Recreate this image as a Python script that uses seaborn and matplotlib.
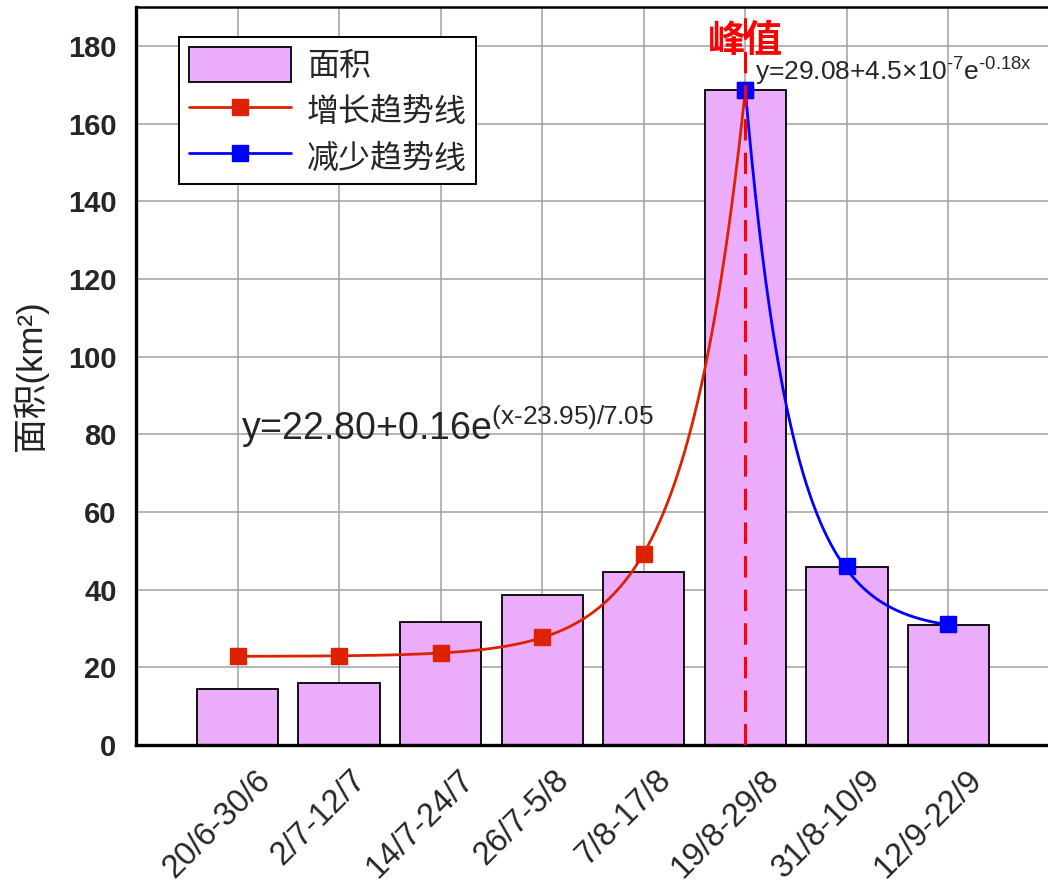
import numpy as np
import matplotlib
matplotlib.use("Agg")
import matplotlib.pyplot as plt
import matplotlib.transforms as mtransforms
from matplotlib.patches import Patch
from matplotlib.lines import Line2D
import seaborn as sns

# data
periods = ['20/6-30/6', '2/7-12/7', '14/7-24/7', '26/7-5/8',
           '7/8-17/8', '19/8-29/8', '31/8-10/9', '12/9-22/9']
area = [14.4, 16.0, 31.7, 38.7, 44.6, 168.6, 45.9, 30.9]

grow_idx = [0, 1, 2, 3, 4, 5]
grow_val = [22.8, 22.8, 23.7, 27.8, 49.3, 168.6]
fall_idx = [5, 6, 7]
fall_val = [168.6, 46.2, 31.2]
peak_idx = 5

# fitted curve constants printed on the chart (x in days, 12 days per period)
day_step = 12
grow_a, grow_b, grow_x0, grow_t = 22.80, 0.16, 23.95, 7.05
fall_a, fall_k = 29.08, 0.18

bar_color = '#ECACFC'
red = '#DD2200'
blue = '#0000FF'

sns.set_style('white')
plt.rcParams['font.family'] = ['Liberation Sans', 'Noto Sans CJK SC']
plt.rcParams['mathtext.fontset'] = 'custom'
plt.rcParams['mathtext.rm'] = 'Liberation Sans'
plt.rcParams['mathtext.it'] = 'Liberation Sans'
plt.rcParams['mathtext.default'] = 'regular'
cjk = ['Liberation Sans', 'Noto Sans CJK SC']

fig = plt.figure(figsize=(10.48, 8.84), dpi=100)
ax = fig.add_axes([136 / 1048, 139 / 884, 914 / 1048, 738 / 884])

sns.barplot(x=periods, y=area, color=bar_color, saturation=1, width=0.8,
            edgecolor='black', linewidth=1.3, ax=ax, zorder=2)

# trend curves from the printed fits
xg = np.linspace(grow_idx[0], grow_idx[-1], 300)
dg = day_step * (xg + 1)
yg = grow_a + grow_b * np.exp((dg - grow_x0) / grow_t)
ax.plot(xg, yg, color=red, lw=2, zorder=4)

xf = np.linspace(fall_idx[0], fall_idx[-1], 300)
df_ = day_step * (xf - fall_idx[0])
yf = fall_a + (fall_val[0] - fall_a) * np.exp(-fall_k * df_)
ax.plot(xf, yf, color=blue, lw=2, zorder=4)

ax.plot(grow_idx, grow_val, 's', color=red, ms=11, zorder=5)
ax.plot(fall_idx, fall_val, 's', color=blue, ms=11, zorder=5)

ax.axvline(peak_idx, color='#FF0000', lw=2.2, ls=(0, (7, 4)), zorder=6)

ax.text(peak_idx, 181, '峰值', color='#FF0000', fontsize=27, fontweight='bold',
        ha='center', va='center', family=cjk, zorder=7)
ax.text(0.03, 78.5, r'y=22.80+0.16e$^{\text{(x-23.95)/7.05}}$', fontsize=27,
        ha='left', va='baseline', zorder=7)
ax.text(5.1, 171, r'y=29.08+4.5×10$^{\text{-7}}$e$^{\text{-0.18x}}$', fontsize=19,
        ha='left', va='baseline', zorder=7)

# axes styling
ax.set_xlim(-1, 8)
ax.set_ylim(0, 190)
ax.set_xticks(range(-1, 9))
ax.set_xticklabels([''] + periods + [''], rotation=45, ha='center', fontsize=23.5)
ax.set_yticks(range(0, 181, 20))
ax.set_yticks(range(10, 191, 20), minor=True)
for lab in ax.get_yticklabels():
    lab.set_fontweight('bold')
    lab.set_fontsize(21)
ax.tick_params(axis='both', which='major', direction='out', length=10, width=2, pad=4)
ax.tick_params(axis='y', which='minor', direction='out', length=9, width=2)
ax.tick_params(axis='x', which='minor', bottom=False)
shift = mtransforms.ScaledTranslation(-0.2, 0, fig.dpi_scale_trans)
for lab in ax.get_xticklabels():
    lab.set_transform(lab.get_transform() + shift)
ax.set_xlabel('')
ax.set_ylabel('面积(km²)', fontsize=25, family=cjk, color='#222222', labelpad=14)
ax.grid(True, which='major', color='#A0A0A0', lw=1.1)
ax.set_axisbelow(True)
for s in ['left', 'bottom']:
    ax.spines[s].set_linewidth(2.4)
ax.spines['top'].set_linewidth(1.8)
ax.spines['right'].set_visible(False)
for s in ax.spines.values():
    s.set_color('black')

handles = [Patch(facecolor=bar_color, edgecolor='black', linewidth=1.3),
           Line2D([], [], color=red, lw=2, marker='s', ms=11),
           Line2D([], [], color=blue, lw=2, marker='s', ms=11)]
labels = ['面积', '增长趋势线', '减少趋势线']
leg = ax.legend(handles, labels, loc='upper left', bbox_to_anchor=(0.047, 0.959),
                borderaxespad=0, fancybox=False, edgecolor='black', framealpha=1,
                prop={'family': cjk, 'size': 23}, handlelength=3.2, handleheight=1.3,
                labelspacing=0.35, borderpad=0.3, handletextpad=0.5)
leg.get_frame().set_linewidth(1.4)
leg.set_zorder(8)

fig.savefig('out.png', dpi=100)
